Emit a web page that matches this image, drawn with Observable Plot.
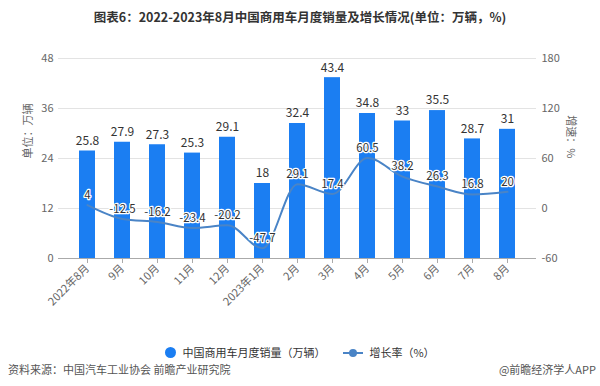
<!DOCTYPE html>
<html>
<head>
<meta charset="utf-8">
<script src="https://cdn.jsdelivr.net/npm/d3@7"></script>
<script src="https://cdn.jsdelivr.net/npm/@observablehq/plot@0.6"></script>
<style>
  html, body { margin: 0; padding: 0; background: #fff; }
  body { width: 600px; height: 386px; position: relative; overflow: hidden;
         font-family: "Noto Sans CJK SC", "Noto Sans", sans-serif; }
  #title { position: absolute; left: 0; top: 7px; width: 600px; text-align: center;
           font-size: 12.5px; font-weight: bold; color: #333; line-height: 20px; }
  #chart { position: absolute; left: 0; top: 30px; }
  #legend { position: absolute; left: 0; top: 343px; width: 600px; display: flex;
            justify-content: center; align-items: center; font-size: 11px; color: #333; line-height: 18px; }
  .sw-dot { width: 11px; height: 11px; border-radius: 50%; background: #1b7ef2; margin-right: 6px; }
  .sw-line { position: relative; width: 20px; height: 11px; margin: 0 6px 0 18px; }
  .sw-line::before { content: ""; position: absolute; left: 0; right: 0; top: 5px; height: 2px; background: #4a84c6; }
  .sw-line::after { content: ""; position: absolute; left: 6px; top: 2px; width: 8px; height: 8px; border-radius: 50%; background: #4a84c6; }
  #src { position: absolute; left: 8px; top: 360px; font-size: 11px; color: #555; line-height: 18px; }
  #app { position: absolute; right: 4px; top: 360px; font-size: 11px; color: #555; line-height: 18px; }
</style>
</head>
<body>
<div id="title">图表6：2022-2023年8月中国商用车月度销量及增长情况(单位：万辆，%)</div>
<div id="chart"></div>
<div id="legend"><span class="sw-dot"></span><span>中国商用车月度销量（万辆）</span><span class="sw-line"></span><span>增长率（%）</span></div>
<div id="src">资料来源：中国汽车工业协会 前瞻产业研究院</div>
<div id="app">@前瞻经济学人APP</div>
<script>
const months = ["2022年8月","9月","10月","11月","12月","2023年1月","2月","3月","4月","5月","6月","7月","8月"];
const sales = [25.8, 27.9, 27.3, 25.3, 29.1, 18, 32.4, 43.4, 34.8, 33, 35.5, 28.7, 31];
const growth = [4, -12.5, -16.2, -23.4, -20.2, -47.7, 29.1, 17.4, 60.5, 38.2, 26.3, 16.8, 20];
const leftTicks = [0, 12, 24, 36, 48];
const rightTicks = [-60, 0, 60, 120, 180];

// map growth (right axis, -60..180) onto left-axis units (0..48)
const toLeft = g => (g - rightTicks[0]) * (leftTicks[4] - leftTicks[0]) / (rightTicks[4] - rightTicks[0]);
const toRight = v => v * (rightTicks[4] - rightTicks[0]) / (leftTicks[4] - leftTicks[0]) + rightTicks[0];

const data = months.map((m, i) => ({month: m, sales: sales[i], growth: growth[i], gy: toLeft(growth[i])}));

const barColor = "#1b7ef2";
const lineColor = "#4a84c6";

const chart = Plot.plot({
  width: 600,
  height: 310,
  marginTop: 28,
  marginBottom: 82,
  marginLeft: 58,
  marginRight: 64,
  style: {fontFamily: '"Noto Sans CJK SC", "Noto Sans", sans-serif', fontSize: "11px", color: "#666", background: "transparent"},
  x: {domain: months, paddingInner: 0.55, paddingOuter: 0.55, label: null},
  y: {domain: [0, 48], label: null},
  marks: [
    Plot.ruleY([12, 24, 36, 48], {stroke: "#e3e3e3", strokeWidth: 1}),
    Plot.barY(data, {x: "month", y: "sales", fill: barColor}),
    Plot.ruleY([0], {stroke: "#aaa", strokeWidth: 1}),
    Plot.axisX({tickRotate: -45, tickSize: 5, tickPadding: 3, stroke: "#aaa", fill: "#666", fontSize: 11, label: null}),
    Plot.axisY(leftTicks, {anchor: "left", tickSize: 0, tickPadding: 5, fill: "#666", fontSize: 11, label: null}),
    Plot.axisY(leftTicks, {anchor: "right", tickSize: 0, tickPadding: 5, fill: "#666", fontSize: 11, label: null, tickFormat: v => String(toRight(v))}),
    Plot.text(["单位：万辆"], {frameAnchor: "left", dx: -30, rotate: -90, fill: "#666", fontSize: 11}),
    Plot.text(["增速：%"], {frameAnchor: "right", dx: 34, rotate: 90, fill: "#666", fontSize: 11}),
    Plot.text(data, {x: "month", y: "sales", text: d => String(d.sales), dy: -10, fill: "#333", fontSize: 12}),
    Plot.line(data, {x: "month", y: "gy", stroke: lineColor, strokeWidth: 2, curve: "monotone-x"}),
    Plot.text(data, {x: "month", y: "gy", text: d => String(d.growth), dy: -10, fill: "#333", stroke: "#fff", strokeWidth: 2.5, fontSize: 11.5})
  ]
});
document.getElementById("chart").appendChild(chart);
</script>
</body>
</html>
